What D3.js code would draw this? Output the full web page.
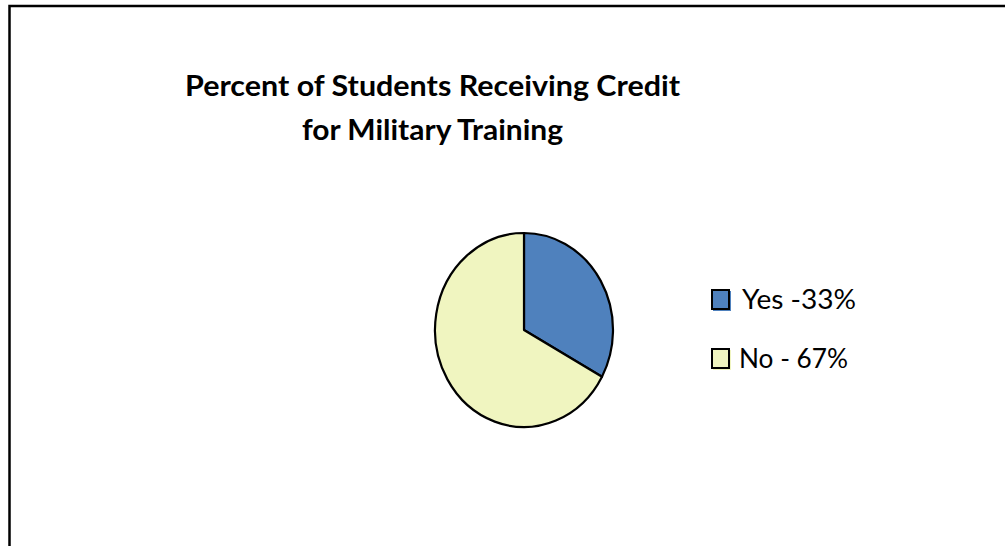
<!DOCTYPE html>
<html>
<head>
<meta charset="utf-8">
<script src="https://cdn.jsdelivr.net/npm/d3@7/dist/d3.min.js"></script>
<style>
  html, body { margin: 0; padding: 0; background: #fff; }
  svg { display: block; }
</style>
</head>
<body>
<svg id="chart" width="1005" height="546"></svg>
<script>
// Survey result: share of students receiving credit for military training
const categories = ["Yes", "No"];
const values = [33, 67];
const legendLabels = ["Yes -33%", "No - 67%"];
const titleLines = ["Percent of Students Receiving Credit", "for Military Training"];
const colors = ["#4F81BD", "#F0F5C0"];

const svg = d3.select("#chart");

// chart area frame (left and top edges visible)
svg.append("path")
  .attr("d", "M9.5,546 L9.5,6 L1005,6")
  .attr("fill", "none")
  .attr("stroke", "#000")
  .attr("stroke-width", 2.5);

// title
const title = svg.append("text")
  .attr("text-anchor", "middle")
  .attr("font-family", "Lato, 'Open Sans', sans-serif")
  .attr("font-weight", "bold")
  .attr("font-size", 29)
  .attr("fill", "#000");
const titleWidths = [495, 261];
titleLines.forEach((t, i) => {
  title.append("tspan")
    .attr("x", 432.5)
    .attr("y", 96 + i * 44)
    .attr("textLength", titleWidths[i])
    .attr("lengthAdjust", "spacingAndGlyphs")
    .text(t);
});

// pie (slightly taller than wide)
const cx = 524, cy = 330, rx = 89, ry = 97;
const pie = d3.pie().sort(null).value(d => d.value);
const arc = d3.arc().innerRadius(0).outerRadius(rx);
const data = categories.map((c, i) => ({ name: c, value: values[i] }));

const pieG = svg.append("g")
  .attr("transform", `translate(${cx},${cy}) scale(1,${ry / rx})`);
pieG.selectAll("path")
  .data(pie(data))
  .join("path")
  .attr("d", arc)
  .attr("fill", (d, i) => colors[i])
  .attr("stroke", "#000")
  .attr("stroke-width", 2.2)
  .attr("stroke-linejoin", "round")
  .attr("vector-effect", "non-scaling-stroke");

// legend
const legendY = [289, 348];
const legendTextX = [742, 739];
const legendTextW = [114, 109];
const legend = svg.append("g");
categories.forEach((c, i) => {
  const g = legend.append("g");
  // colour offset behind the swatch border
  g.append("rect")
    .attr("x", 713).attr("y", legendY[i] + 2)
    .attr("width", 18).attr("height", 20)
    .attr("fill", colors[i]);
  g.append("rect")
    .attr("x", 712).attr("y", legendY[i] + 1)
    .attr("width", 17).attr("height", 19)
    .attr("fill", colors[i])
    .attr("stroke", "#000")
    .attr("stroke-width", 2);
  g.append("text")
    .attr("x", legendTextX[i])
    .attr("y", legendY[i] + 20)
    .attr("font-family", "Lato, 'Open Sans', sans-serif")
    .attr("font-size", 27)
    .attr("fill", "#000")
    .attr("textLength", legendTextW[i])
    .attr("lengthAdjust", "spacingAndGlyphs")
    .text(legendLabels[i]);
});
</script>
</body>
</html>
